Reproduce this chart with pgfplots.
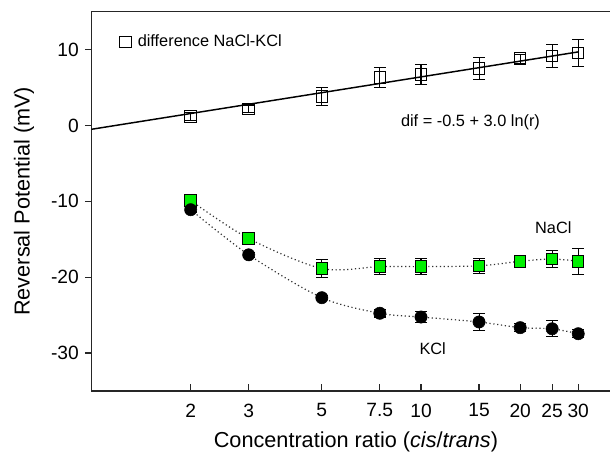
\documentclass[border=0pt]{standalone}
\usepackage{fontspec}
\setmainfont{Liberation Sans}
\usepackage{pgfplots}
\pgfplotsset{compat=1.18}
\usepackage{pgfplotstable}
\definecolor{limeg}{RGB}{0,240,0}

\pgfplotstableread{
x y e
2 1.2 0.5
3 2.2 0.5
5 3.8 1.2
7.5 6.3 1.3
10 6.7 1.35
15 7.5 1.45
20 8.8 0.6
25 9.15 1.55
30 9.55 1.8
}\diffdata

\pgfplotstableread{
x y e
2 -9.9 0.3
3 -14.9 0.3
5 -18.85 1.2
7.5 -18.6 1.1
10 -18.6 1.1
15 -18.5 1.0
20 -17.9 0.4
25 -17.6 1.1
30 -17.9 1.7
}\nacldata

\pgfplotstableread{
x y e
2 -11.1 0.3
3 -17.05 0.3
5 -22.7 0.3
7.5 -24.75 0.5
10 -25.25 0.7
15 -25.9 1.1
20 -26.65 0.5
25 -26.8 1.05
30 -27.45 0.5
}\kcldata

\begin{document}
\begin{tikzpicture}
\begin{axis}[
  at={(0,0)}, anchor=south west,
  scale only axis, width=388.875pt, height=284.475pt,
  xmode=log, xmin=1, xmax=37.46, ymin=-35, ymax=15,
  axis x line=box, axis y line=left,
  axis line style={-, line width=1.1pt, black!85},
  x axis line style={-}, y axis line style={-},
  xtick={2,3,5,7.5,10,15,20,25,30},
  xticklabels={2,3,5,7.5,10,15,20,25,30},
  ytick={-30,-20,-10,0,10},
  minor xtick={}, xminorticks=false,
  xtick pos=left, ytick pos=left,
  tick align=inside,
  major tick length=5pt,
  tick style={line width=0.9pt, black!85},
  ytick style={xshift=-5pt},
  /pgf/number format/assume math mode=true,
  tick label style={font=\fontsize{14.4}{16}\selectfont},
  yticklabel style={xshift=-6pt},
  xticklabel style={yshift=-6pt},
  xlabel={Concentration ratio (\textit{cis}/\textit{trans})},
  ylabel={Reversal Potential (mV)},
  xlabel style={font=\fontsize{16.25}{18}\selectfont, at={(axis description cs:0.51,0)}, anchor=base, yshift=-42.2pt},
  ylabel style={font=\fontsize{16.25}{18}\selectfont, at={(axis description cs:0,0.5)}, anchor=center, yshift=50.6pt},
  legend style={at={(axis description cs:0.046,0.92)}, anchor=west, draw=none, fill=none,
    font=\fontsize{12.25}{14}\selectfont},
  legend cell align=left,
  clip=false,
]
% fit line
\addplot[black, line width=1.1pt, forget plot] coordinates {(1,-0.5) (30,9.70)};
% dotted smooth curves
\addplot[black!80, dotted, line width=0.9pt, smooth, forget plot] table[x=x,y=y] {\nacldata};
\addplot[black!80, dotted, line width=0.9pt, smooth, forget plot] table[x=x,y=y] {\kcldata};
% difference
\addplot[only marks, mark=square, mark size=4.3pt, mark options={line width=0.75pt, draw=black, fill=none},
  error bars/.cd, y dir=both, y explicit,
  error bar style={line width=0.8pt, black},
  error mark options={rotate=90, mark size=4.5pt, line width=0.8pt, black}]
  table[x=x,y=y,y error=e] {\diffdata};
\addlegendentry{\hspace{3pt}difference NaCl-KCl}
% NaCl
\addplot[only marks, mark=square*, mark size=4.3pt, mark options={line width=0.75pt, draw=black, fill=limeg}, forget plot,
  error bars/.cd, y dir=both, y explicit,
  error bar style={line width=0.8pt, black},
  error mark options={rotate=90, mark size=4.5pt, line width=0.8pt, black}]
  table[x=x,y=y,y error=e] {\nacldata};
% KCl
\addplot[only marks, mark=*, mark size=4.6pt, mark options={draw=black, fill=black}, forget plot,
  error bars/.cd, y dir=both, y explicit,
  error bar style={line width=0.8pt, black},
  error mark options={rotate=90, mark size=4.5pt, line width=0.8pt, black}]
  table[x=x,y=y,y error=e] {\kcldata};
\node[anchor=west, font=\fontsize{12.25}{14}\selectfont, inner sep=0pt] at (axis cs:8.68,0.37) {dif = -0.5 + 3.0 ln(r)};
\node[font=\fontsize{12.25}{14}\selectfont, inner sep=0pt] at (axis cs:25.2,-13.47) {NaCl};
\node[font=\fontsize{12.25}{14}\selectfont, inner sep=0pt] at (axis cs:10.85,-29.37) {KCl};
\end{axis}
\pgfresetboundingbox
\path[use as bounding box] (-68.625pt,-45.75pt) rectangle (388.875pt,293.25pt);
\end{tikzpicture}
\end{document}
